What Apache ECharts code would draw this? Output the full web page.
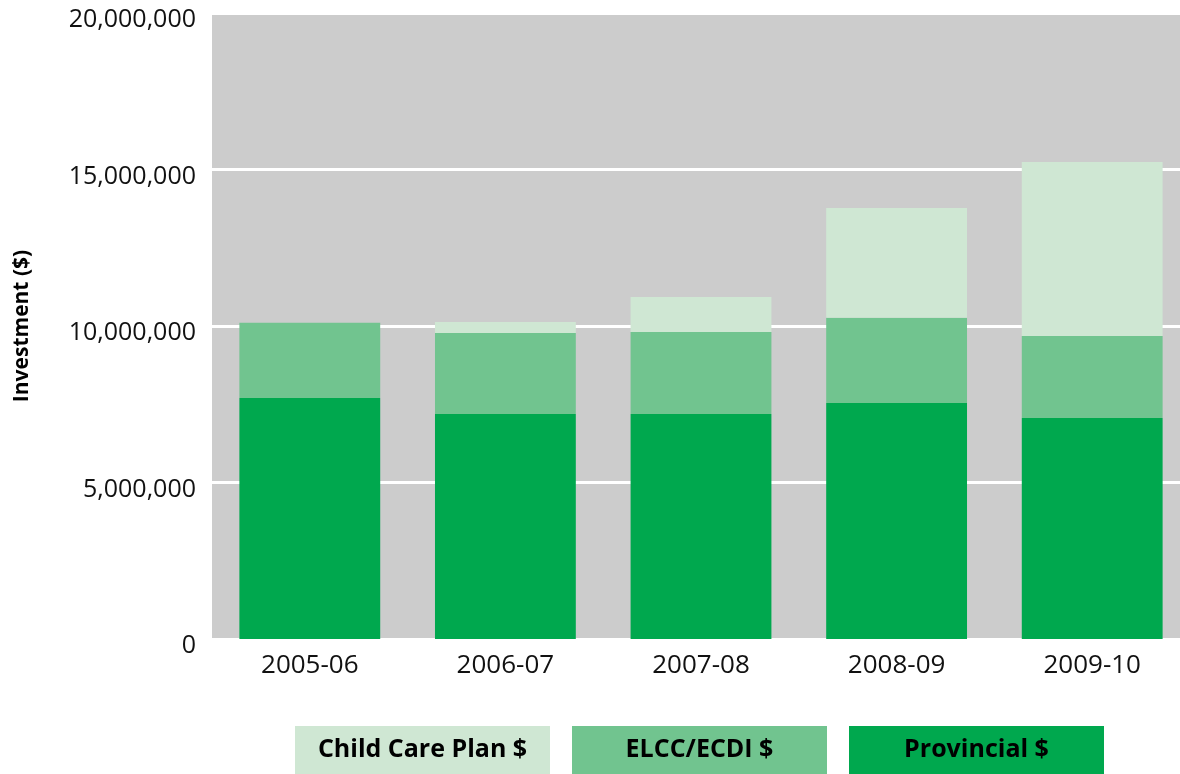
<!DOCTYPE html>
<html>
<head>
<meta charset="utf-8">
<script src="https://cdn.jsdelivr.net/npm/echarts@6/dist/echarts.min.js"></script>
<style>
html,body{margin:0;padding:0;background:#fff;}
#chart{width:1180px;height:774px;}
</style>
</head>
<body>
<div id="chart"></div>
<script>
const categories = ['2005-06', '2006-07', '2007-08', '2008-09', '2009-10'];
const provincial = [7700000, 7190000, 7190000, 7540000, 7060000];
const elccEcdi = [2400000, 2590000, 2620000, 2720000, 2620000];
const childCarePlan = [0, 350000, 1120000, 3510000, 5560000];
const yTicks = [0, 5000000, 10000000, 15000000, 20000000];
const seriesNames = ['Child Care Plan $', 'ELCC/ECDI $', 'Provincial $'];
const colors = {ccp: '#cfe7d3', elcc: '#71c48f', prov: '#00a84e'};

const font = "'Open Sans', 'Noto Sans', sans-serif";
const chart = echarts.init(document.getElementById('chart'));

function richFor(bg) {
  return {
    width: 255, height: 48, lineHeight: 48, align: 'center',
    backgroundColor: bg,
    fontFamily: font, fontWeight: 'bold', fontSize: 25, color: '#000'
  };
}

chart.setOption({
  animation: false,
  grid: {
    left: 212, top: 13, width: 978, bottom: 135,
    outerBoundsMode: 'none',
    containLabel: false,
    show: true, backgroundColor: '#cccccc', borderWidth: 0
  },
  legend: {
    left: 290, top: 726,
    itemWidth: 0, itemHeight: 0, itemGap: 17,
    padding: 0,
    icon: 'none',
    selectedMode: false,
    data: seriesNames,
    formatter: function (name) {
      const key = name === seriesNames[0] ? 'c' : (name === seriesNames[1] ? 'e' : 'p');
      return '{' + key + '|' + name + '}';
    },
    textStyle: {
      rich: {
        c: richFor(colors.ccp),
        e: richFor(colors.elcc),
        p: richFor(colors.prov)
      }
    }
  },
  xAxis: {
    type: 'category',
    data: categories,
    axisLine: {show: false},
    axisTick: {show: false},
    axisLabel: {fontFamily: font, fontSize: 26, color: '#111', margin: 14}
  },
  yAxis: {
    type: 'value',
    min: yTicks[0],
    max: yTicks[yTicks.length - 1],
    interval: yTicks[1] - yTicks[0],
    name: 'Investment ($)',
    nameLocation: 'middle',
    nameGap: 179,
    nameRotate: 90,
    nameTextStyle: {fontFamily: font, fontWeight: 'bold', fontSize: 21, color: '#000'},
    axisLine: {show: false},
    axisTick: {show: false},
    splitLine: {lineStyle: {color: '#ffffff', width: 3}},
    axisLabel: {
      margin: 16,
      formatter: v => '{t|' + v.toLocaleString('en-US') + '}',
      rich: {
        t: {fontFamily: font, fontSize: 25, color: '#111', padding: [14, 0, 0, 0]}
      }
    }
  },
  series: [
    {name: seriesNames[2], type: 'bar', stack: 'total', data: provincial, barWidth: '72%', itemStyle: {color: colors.prov}},
    {name: seriesNames[1], type: 'bar', stack: 'total', data: elccEcdi, barWidth: '72%', itemStyle: {color: colors.elcc}},
    {name: seriesNames[0], type: 'bar', stack: 'total', data: childCarePlan, barWidth: '72%', itemStyle: {color: colors.ccp}}
  ]
});
</script>
</body>
</html>
